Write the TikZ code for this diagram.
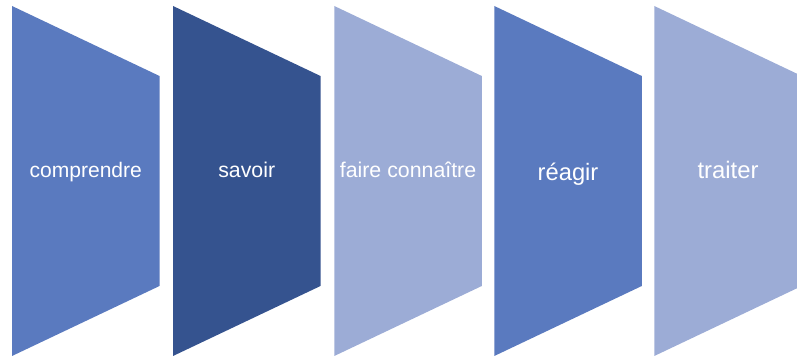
\documentclass[tikz,border=0pt]{standalone}
\usepackage{fontspec}
\setmainfont{Liberation Sans}
\usepackage{tikz}

\definecolor{midblue}{HTML}{5A7ABF}
\definecolor{darkblue}{HTML}{35538F}
\definecolor{paleblue}{HTML}{9CACD6}

\begin{document}
\begin{tikzpicture}[x=0.75pt, y=-0.75pt]
        \useasboundingbox (0,0) rectangle (797,359);
        \clip (0,0) rectangle (797,359);
        \foreach \x/\c/\t/\s/\b [count=\i] in {12/midblue/comprendre/15.8/177.5, 173/darkblue/savoir/16/177.5, 334.3/paleblue/faire connaître/16/178, 494.3/midblue/réagir/17.8/180.5, 654.3/paleblue/traiter/17.9/179}
        {
            \fill[\c] (\x,6) -- (\x+147.5,76) -- (\x+147.5,286) -- (\x,356) -- cycle;
            \node[text=white, inner sep=0pt, anchor=base, font=\fontsize{\s}{\s}\selectfont] (phase\i) at (\x+73.75,\b) {\t};
        }
    \end{tikzpicture}
\end{document}
